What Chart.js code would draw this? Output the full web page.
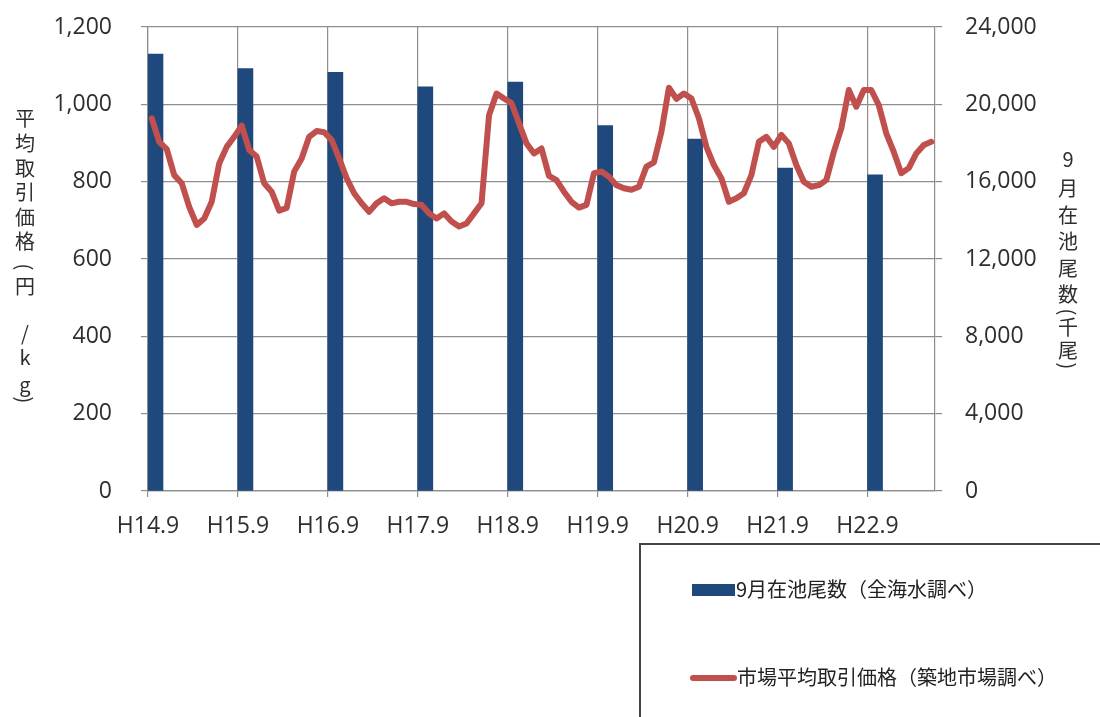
<!DOCTYPE html>
<html>
<head>
<meta charset="utf-8">
<script src="https://cdn.jsdelivr.net/npm/chart.js@4.4.1/dist/chart.umd.min.js"></script>
<style>
  html, body { margin: 0; padding: 0; background: #ffffff; }
  #wrap { width: 1100px; height: 717px; position: relative; }
</style>
</head>
<body>
<div id="wrap"><canvas id="c" width="1100" height="717"></canvas></div>
<script>
// September labels on the horizontal axis (one per year)
const yearLabels = ['H14.9', 'H15.9', 'H16.9', 'H17.9', 'H18.9', 'H19.9', 'H20.9', 'H21.9', 'H22.9'];

// 9月在池尾数 (千尾), one value per September
const stockSeptember = [22600, 21850, 21650, 20900, 21150, 18900, 18200, 16700, 16350];

// 市場平均取引価格 (円/kg), monthly from H14.9 to H23.5
const marketPrice = [
  964, 903, 884, 817, 796, 735, 688, 705, 748, 847, 890, 916,
  945, 882, 865, 796, 774, 725, 732, 826, 860, 916, 931, 928,
  908, 860, 809, 770, 744, 722, 744, 757, 744, 748, 748, 742,
  740, 718, 705, 718, 697, 684, 692, 718, 744, 972, 1028, 1015,
  1003, 951, 899, 873, 886, 815, 804, 774, 748, 733, 740, 822,
  826, 813, 791, 783, 779, 787, 839, 850, 929, 1043, 1014, 1028,
  1015, 964, 890, 843, 809, 748, 757, 770, 817, 903, 916, 890,
  921, 899, 843, 800, 787, 791, 804, 877, 938, 1037, 994, 1037,
  1037, 998, 925, 877, 822, 835, 873, 895, 903
];

const seriesNames = ['9月在池尾数（全海水調べ）', '市場平均取引価格（築地市場調べ）'];
const leftTitle = '平均取引価格(円/kg)';
const rightTitle = '9月在池尾数(千尾)';

const BAR_COLOR = '#1f497d';
const LINE_COLOR = '#c0504d';
const GRID_COLOR = '#8e8e8e';
const TEXT_COLOR = '#2e2e2e';
const NUM_FONT = { family: '"Open Sans", sans-serif', size: 23 };
const CJK = '"Noto Sans CJK JP", sans-serif';

// months are counted from H14.9 = 0; a monthly point sits in the middle of its month,
// the yearly bar covers the first two months of its year
const lineData = marketPrice.map((v, i) => ({ x: i + 0.5, y: v }));
const barData = stockSeptember.map((v, k) => ({ x: 12 * k + 1, y: v }));

// stacked (upright) axis titles, one character per row; brackets are turned a quarter
const verticalTitles = {
  id: 'verticalTitles',
  afterDraw(chart) {
    const ctx = chart.ctx;
    const draw = (text, x, ys) => {
      ctx.save();
      ctx.fillStyle = TEXT_COLOR;
      ctx.font = '20px ' + CJK;
      ctx.textAlign = 'center';
      ctx.textBaseline = 'middle';
      Array.from(text).forEach((ch, i) => {
        if (ch === '(' || ch === ')') {
          ctx.save();
          ctx.translate(x, ys[i]);
          ctx.rotate(Math.PI / 2);
          ctx.fillText(ch, 0, 0);
          ctx.restore();
        } else {
          ctx.fillText(ch, x, ys[i]);
        }
      });
      ctx.restore();
    };
    draw(leftTitle, 25, [118, 143, 168, 192, 217, 241, 267, 286, 333, 357, 384, 400]);
    draw(rightTitle, 1068, [159, 188, 215, 241, 268, 294, 312, 327, 350, 366]);
  }
};

// framed legend below the plot
const boxLegend = {
  id: 'boxLegend',
  afterDraw(chart) {
    const ctx = chart.ctx;
    ctx.save();
    ctx.strokeStyle = '#444444';
    ctx.lineWidth = 2;
    ctx.strokeRect(640, 544, 480, 200);

    ctx.fillStyle = chart.data.datasets[1].backgroundColor;
    ctx.fillRect(692, 584, 43, 12);

    ctx.strokeStyle = chart.data.datasets[0].borderColor;
    ctx.lineWidth = 6;
    ctx.lineCap = 'round';
    ctx.beginPath();
    ctx.moveTo(693, 678);
    ctx.lineTo(734, 678);
    ctx.stroke();

    ctx.fillStyle = '#222222';
    ctx.font = '20px ' + CJK;
    ctx.textAlign = 'left';
    ctx.textBaseline = 'middle';
    ctx.fillText(seriesNames[0], 736, 589);
    ctx.fillText(seriesNames[1], 737, 677);
    ctx.restore();
  }
};

// fixed axis sizes so the plot area lands where intended
const fixWidth = (w) => (s) => { s.width = w; s.paddingTop = 0; s.paddingBottom = 0; };

new Chart(document.getElementById('c'), {
  type: 'bar',
  data: {
    datasets: [
      {
        type: 'line',
        label: seriesNames[1],
        data: lineData,
        yAxisID: 'yL',
        borderColor: LINE_COLOR,
        borderWidth: 6,
        pointRadius: 0,
        tension: 0,
        borderJoinStyle: 'round',
        borderCapStyle: 'round',
        order: 0
      },
      {
        type: 'bar',
        label: seriesNames[0],
        data: barData,
        yAxisID: 'yR',
        backgroundColor: BAR_COLOR,
        barThickness: 15,
        order: 1
      }
    ]
  },
  options: {
    responsive: false,
    animation: false,
    devicePixelRatio: 1,
    locale: 'en-US',
    layout: { autoPadding: false, padding: { top: 27, left: 0, right: 0, bottom: 0 } },
    plugins: { legend: { display: false }, tooltip: { enabled: false } },
    scales: {
      x: {
        type: 'linear',
        min: 0,
        max: 105,
        offset: false,
        afterBuildTicks: (s) => { s.ticks = yearLabels.map((_, k) => ({ value: 12 * k })); },
        afterFit: (s) => { s.height = 226; s.paddingLeft = 0; s.paddingRight = 0; },
        ticks: {
          callback: (v) => yearLabels[v / 12] ?? '',
          font: NUM_FONT,
          color: TEXT_COLOR,
          padding: 16,
          maxRotation: 0,
          autoSkip: false
        },
        grid: { offset: false, color: GRID_COLOR, lineWidth: 1.2, tickLength: 6 },
        border: { color: GRID_COLOR, width: 1.2 }
      },
      yL: {
        position: 'left',
        min: 0,
        max: 1200,
        afterFit: fixWidth(148),
        ticks: { stepSize: 200, font: NUM_FONT, color: TEXT_COLOR, padding: 29 },
        grid: { color: GRID_COLOR, lineWidth: 1.2, tickLength: 7 },
        border: { color: GRID_COLOR, width: 1.2 }
      },
      yR: {
        position: 'right',
        min: 0,
        max: 24000,
        afterFit: fixWidth(165),
        ticks: { stepSize: 4000, font: NUM_FONT, color: TEXT_COLOR, padding: 23 },
        grid: { drawOnChartArea: false, color: GRID_COLOR, lineWidth: 1.2, tickLength: 7 },
        border: { color: GRID_COLOR, width: 1.2 }
      }
    }
  },
  plugins: [verticalTitles, boxLegend]
});
</script>
</body>
</html>
